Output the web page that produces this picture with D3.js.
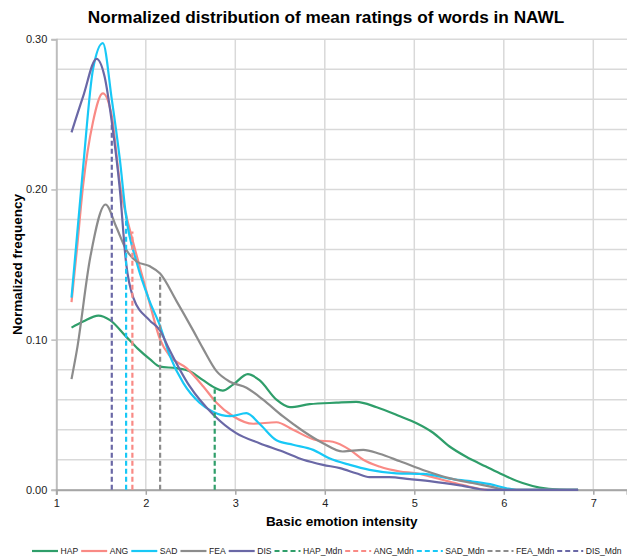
<!DOCTYPE html>
<html>
<head>
<meta charset="utf-8">
<script src="https://cdn.jsdelivr.net/npm/d3@7"></script>
<style>
  body { margin: 0; background: #fff; }
  svg { font-family: "Liberation Sans", Arial, sans-serif; }
</style>
</head>
<body>
<div id="chart"></div>
<script>
// series (x = intensity, y = normalized frequency)
var hapX = [1.17, 1.30, 1.47, 1.60, 1.78, 1.91, 2.045, 2.16, 2.34, 2.49, 2.64, 2.77, 2.86, 2.975, 3.14, 3.27, 3.46, 3.61, 3.83, 4.13, 4.35, 4.58, 4.84, 5.02, 5.21, 5.39, 5.58, 5.80, 5.99, 6.21, 6.40, 6.62, 6.83];
var hapY = [0.108, 0.112, 0.116, 0.113, 0.102, 0.094, 0.087, 0.082, 0.081, 0.079, 0.073, 0.068, 0.066, 0.070, 0.077, 0.073, 0.060, 0.055, 0.057, 0.058, 0.0585, 0.055, 0.049, 0.0445, 0.038, 0.029, 0.022, 0.0155, 0.010, 0.0045, 0.0015, 0.0002, 0];

var angX = [1.17, 1.23, 1.30, 1.41, 1.52, 1.62, 1.71, 1.84, 1.93, 2.04, 2.16, 2.27, 2.455, 2.64, 2.79, 2.975, 3.20, 3.46, 3.645, 3.91, 4.09, 4.28, 4.43, 4.61, 4.84, 5.02, 5.17, 5.39, 5.61, 5.82, 6.83];
var angY = [0.125, 0.16, 0.203, 0.245, 0.264, 0.249, 0.204, 0.169, 0.149, 0.125, 0.100, 0.089, 0.081, 0.069, 0.058, 0.049, 0.044, 0.045, 0.040, 0.033, 0.032, 0.0266, 0.020, 0.0155, 0.0122, 0.011, 0.0089, 0.0055, 0.0022, 0, 0];

var sadX = [1.17, 1.30, 1.41, 1.52, 1.62, 1.71, 1.78, 1.90, 2.04, 2.16, 2.27, 2.42, 2.60, 2.75, 2.94, 3.125, 3.27, 3.46, 3.645, 3.87, 4.05, 4.28, 4.50, 4.80, 5.10, 5.39, 5.65, 5.88, 6.03, 6.14, 6.83];
var sadY = [0.128, 0.215, 0.280, 0.2975, 0.260, 0.220, 0.182, 0.151, 0.126, 0.109, 0.089, 0.071, 0.058, 0.052, 0.049, 0.051, 0.044, 0.033, 0.030, 0.0266, 0.021, 0.0166, 0.0133, 0.011, 0.0106, 0.0075, 0.0055, 0.0033, 0.001, 0, 0];

var feaX = [1.17, 1.23, 1.38, 1.55, 1.67, 1.78, 1.90, 2.04, 2.16, 2.34, 2.53, 2.64, 2.79, 2.94, 3.125, 3.31, 3.53, 3.76, 3.98, 4.20, 4.43, 4.61, 4.84, 5.13, 5.39, 5.65, 5.88, 6.03, 6.83];
var feaY = [0.0737, 0.093, 0.155, 0.190, 0.175, 0.160, 0.152, 0.149, 0.144, 0.126, 0.106, 0.094, 0.079, 0.072, 0.068, 0.060, 0.049, 0.039, 0.031, 0.0255, 0.0266, 0.024, 0.019, 0.0125, 0.0078, 0.0045, 0.0018, 0, 0];

var disX = [1.17, 1.30, 1.45, 1.54, 1.62, 1.71, 1.78, 1.86, 2.04, 2.16, 2.25, 2.49, 2.755, 3.01, 3.27, 3.53, 3.76, 3.98, 4.17, 4.35, 4.50, 4.72, 4.95, 5.21, 5.51, 5.82, 6.83];
var disY = [0.238, 0.262, 0.287, 0.275, 0.245, 0.200, 0.151, 0.128, 0.113, 0.106, 0.095, 0.069, 0.050, 0.0377, 0.031, 0.0255, 0.020, 0.0166, 0.0144, 0.011, 0.0084, 0.0084, 0.0071, 0.0055, 0.003, 0, 0];

// medians (x) and height of their dashed line (y)
var mdnX = [2.77, 1.85, 1.78, 2.16, 1.62];
var mdnY = [0.067, 0.172, 0.184, 0.142, 0.244];

var seriesNames = ["HAP", "ANG", "SAD", "FEA", "DIS"];
var colors = ["#2f9e6a", "#f98a85", "#18c8f6", "#8c8c8c", "#6a68a6"];
var xTicks = [1, 2, 3, 4, 5, 6, 7];
var yTicks = [0, 0.10, 0.20, 0.30];
var yGrid = d3.range(0, 0.301, 0.02);

var xs = [hapX, angX, sadX, feaX, disX];
var ys = [hapY, angY, sadY, feaY, disY];

var width = 627, height = 558;
var plotLeft = 56.3, plotRight = 627, plotTop = 39.3, plotBottom = 489.8;

var x = d3.scaleLinear().domain([1, 1 + (plotRight - plotLeft) / 89.5]).range([plotLeft, plotRight]);
var y = d3.scaleLinear().domain([0, 0.30]).range([plotBottom, plotTop]);

var svg = d3.select("#chart").append("svg")
    .attr("width", width)
    .attr("height", height);

// horizontal grid
svg.append("g").selectAll("line").data(yGrid).enter().append("line")
    .attr("x1", plotLeft).attr("x2", plotRight)
    .attr("y1", y).attr("y2", y)
    .style("stroke", "#d9d9d9")
    .style("stroke-width", 1.5);

// vertical grid
svg.append("g").selectAll("line").data(xTicks.slice(1)).enter().append("line")
    .attr("x1", x).attr("x2", x)
    .attr("y1", plotTop).attr("y2", plotBottom)
    .style("stroke", "#d9d9d9")
    .style("stroke-width", 1.5);

// y axis
var yAxis = svg.append("g")
    .attr("transform", "translate(" + plotLeft + ",0)")
    .call(d3.axisLeft(y).tickValues(yTicks).tickFormat(d3.format(".2f")).tickSize(5).tickPadding(4));
yAxis.select(".domain").attr("stroke", "#bdbdbd").attr("stroke-width", 2);
yAxis.selectAll(".tick line").attr("stroke", "#bdbdbd").attr("stroke-width", 1.5);
yAxis.selectAll("text").attr("font-size", 11).attr("fill", "#222")
    .attr("font-family", "'Liberation Sans', Arial, sans-serif");

// x axis
var xAxis = svg.append("g")
    .attr("transform", "translate(0," + plotBottom + ")")
    .call(d3.axisBottom(x).tickValues(xTicks).tickFormat(d3.format("d")).tickSize(5).tickPadding(4));
xAxis.select(".domain").attr("stroke", "#a6a6a6").attr("stroke-width", 2);
xAxis.selectAll(".tick line").attr("stroke", "#a6a6a6").attr("stroke-width", 1.5);
xAxis.selectAll("text").attr("font-size", 11).attr("fill", "#222")
    .attr("font-family", "'Liberation Sans', Arial, sans-serif");

// lines
var line = d3.line()
    .x(function (d) { return x(d[0]); })
    .y(function (d) { return y(d[1]); })
    .curve(d3.curveMonotoneX);

seriesNames.forEach(function (name, i) {
    var pts = d3.zip(xs[i], ys[i]);
    svg.append("path")
        .datum(pts)
        .attr("d", line)
        .attr("fill", "none")
        .attr("stroke", colors[i])
        .attr("stroke-width", 2.2)
        .attr("stroke-linejoin", "round");
});

// median lines
svg.append("g").selectAll("line").data(mdnX).enter().append("line")
    .attr("x1", function (d) { return x(d); })
    .attr("x2", function (d) { return x(d); })
    .attr("y1", y(0))
    .attr("y2", function (d, i) { return y(mdnY[i]); })
    .attr("stroke", function (d, i) { return colors[i]; })
    .attr("stroke-width", 2.2)
    .attr("stroke-dasharray", "5,3");

// titles
svg.append("text")
    .attr("x", 326).attr("y", 23)
    .attr("text-anchor", "middle")
    .attr("font-size", 17.2).attr("font-weight", "bold")
    .text("Normalized distribution of mean ratings of words in NAWL");

svg.append("text")
    .attr("x", (plotLeft + plotRight) / 2).attr("y", 526)
    .attr("text-anchor", "middle")
    .attr("font-size", 13.5).attr("font-weight", "bold")
    .text("Basic emotion intensity");

svg.append("text")
    .attr("transform", "translate(22," + ((plotTop + plotBottom) / 2) + ") rotate(-90)")
    .attr("text-anchor", "middle")
    .attr("font-size", 13.5).attr("font-weight", "bold")
    .text("Normalized frequency");

// legend
var legendNames = seriesNames.concat(seriesNames.map(function (n) { return n + "_Mdn"; }));
var legend = svg.append("g").attr("transform", "translate(32,551)");
var cx = 0;
legendNames.forEach(function (name, i) {
    var g = legend.append("g").attr("transform", "translate(" + cx + ",0)");
    g.append("line")
        .attr("x1", 0).attr("x2", 26)
        .attr("y1", 0).attr("y2", 0)
        .attr("stroke", colors[i % 5])
        .attr("stroke-width", 2.2)
        .attr("stroke-dasharray", i < 5 ? null : "5,3");
    var t = g.append("text")
        .attr("x", 28.5).attr("y", 3.3)
        .attr("font-size", 8.6).attr("fill", "#222")
        .text(name);
    cx += 28.5 + t.node().getComputedTextLength() + 3;
});
</script>
</body>
</html>
